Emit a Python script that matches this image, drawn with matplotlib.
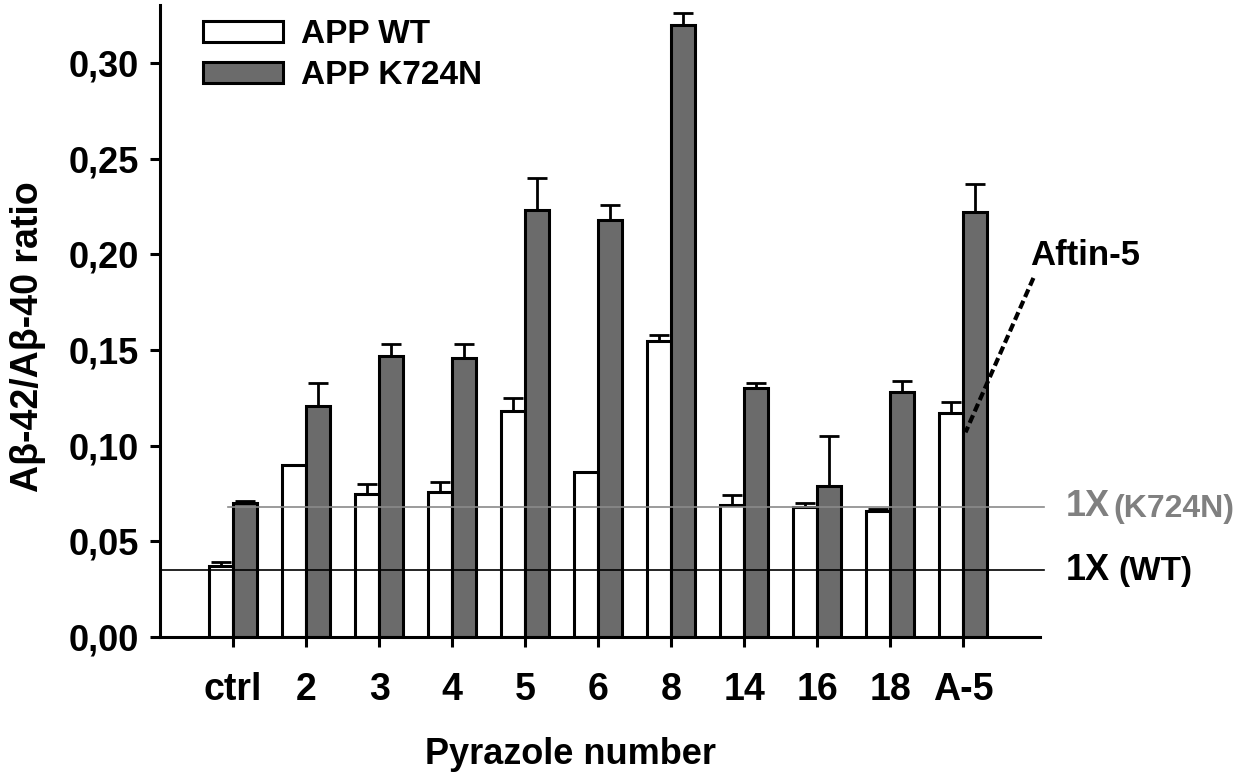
import matplotlib
matplotlib.use("Agg")
import matplotlib.pyplot as plt
import numpy as np

plt.rcParams['font.family'] = ['Liberation Sans', 'DejaVu Sans']
plt.rcParams['font.weight'] = 'bold'

categories = ["ctrl", "2", "3", "4", "5", "6", "8", "14", "16", "18", "A-5"]
wt_values = [0.037, 0.090, 0.075, 0.076, 0.118, 0.086, 0.155, 0.069, 0.068, 0.066, 0.117]
wt_errors = [0.002, 0.000, 0.005, 0.005, 0.007, 0.000, 0.003, 0.005, 0.002, 0.001, 0.006]
k_values = [0.070, 0.121, 0.147, 0.146, 0.223, 0.218, 0.320, 0.130, 0.079, 0.128, 0.222]
k_errors = [0.001, 0.012, 0.006, 0.007, 0.017, 0.008, 0.006, 0.003, 0.026, 0.006, 0.015]
series_names = ["APP WT", "APP K724N"]
yticks = [0.00, 0.05, 0.10, 0.15, 0.20, 0.25, 0.30]
wt_baseline = 0.035
k_baseline = 0.068

W, H = 1260, 783
fig = plt.figure(figsize=(W / 100, H / 100), dpi=100)
ax = fig.add_axes([160 / W, 1 - 637 / H, 880 / W, 632 / H])

x = np.arange(len(categories))
bw = 0.33
gray = "#6b6b6b"
lw = 2.2

b1 = ax.bar(x - bw / 2, wt_values, bw, color="white", edgecolor="black", linewidth=lw, zorder=2, label=series_names[0])
b2 = ax.bar(x + bw / 2, k_values, bw, color=gray, edgecolor="black", linewidth=lw, zorder=2, label=series_names[1])
zeros = np.zeros(len(categories))
ax.errorbar(x - bw / 2, wt_values, yerr=[zeros, wt_errors], fmt="none", ecolor="black", elinewidth=2.0, capsize=7.5, capthick=2.0, zorder=1)
ax.errorbar(x + bw / 2, k_values, yerr=[zeros, k_errors], fmt="none", ecolor="black", elinewidth=2.0, capsize=7.5, capthick=2.0, zorder=1)

# reference lines
ax.plot([-1.0, 11.1], [wt_baseline, wt_baseline], color="black", lw=1.2, zorder=3, clip_on=False)
ax.plot([-0.07, 11.1], [k_baseline, k_baseline], color="#8a8a8a", lw=1.2, zorder=3, clip_on=False)

ax.text(11.40, k_baseline, "1X", fontsize=26, color="#808080", va="center", ha="left", fontweight="bold")
ax.text(12.05, k_baseline - 0.001, "(K724N)", fontsize=23, color="#808080", va="center", ha="left", fontweight="bold")
ax.text(11.40, wt_baseline, "1X", fontsize=26, color="black", va="center", ha="left", fontweight="bold")
ax.text(12.12, wt_baseline - 0.001, "(WT)", fontsize=24, color="black", va="center", ha="left", fontweight="bold")

# Aftin-5 annotation
ax.plot([10.96, 10.03], [0.1877, 0.107], color="black", lw=3, linestyle=(0, (2, 1)), zorder=4, clip_on=False)
ax.text(10.92, 0.1997, "Aftin-5", fontsize=25, va="center", ha="left", fontweight="bold")

ax.set_xlim(-1.0, 11.05)
ax.set_ylim(0, 0.3304)
ax.set_xticks(x)
ax.set_xticklabels(categories)
ax.set_yticks(yticks)
ax.set_yticklabels([f"{v:.2f}".replace(".", ",") for v in yticks])

for s in ["top", "right"]:
    ax.spines[s].set_visible(False)
for s in ["left", "bottom"]:
    ax.spines[s].set_linewidth(2.2)
ax.tick_params(axis="y", length=7, width=2.2, labelsize=26, pad=8)
ax.tick_params(axis="x", length=7, width=2.2, labelsize=27, pad=18)

ax.set_ylabel("Aβ-42/Aβ-40 ratio", fontsize=27, fontweight="bold", va="center")
ax.yaxis.set_label_coords(-0.150, 0.475)
ax.set_xlabel("Pyrazole number", fontsize=26, fontweight="bold")
ax.xaxis.set_label_coords(0.466, -0.158)

leg = ax.legend(handles=[b1, b2], loc="upper left", bbox_to_anchor=(203 / W, 1 - 19 / H),
                bbox_transform=fig.transFigure, frameon=False, fontsize=24,
                handlelength=2.4, handleheight=0.6, handletextpad=0.55,
                labelspacing=0.3, borderpad=0, borderaxespad=0)

fig.savefig("out.png", dpi=100)
